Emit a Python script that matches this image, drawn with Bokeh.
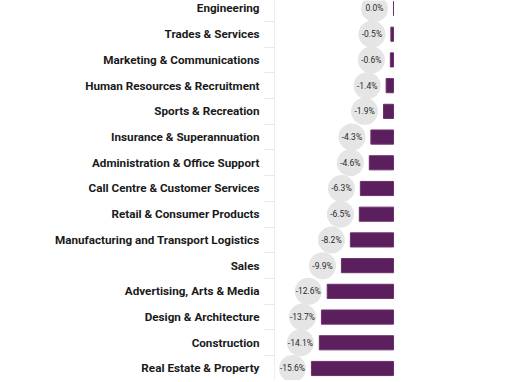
from bokeh.plotting import figure
from bokeh.models import LinearAxis, FixedTicker, Range1d, ColumnDataSource
from bokeh.transform import dodge
from bokeh.core.properties import value
from bokeh.embed import file_html
from bokeh.resources import INLINE

categories = [
    "Engineering", "Trades & Services", "Marketing & Communications",
    "Human Resources & Recruitment", "Sports & Recreation",
    "Insurance & Superannuation", "Administration & Office Support",
    "Call Centre & Customer Services", "Retail & Consumer Products",
    "Manufacturing and Transport Logistics", "Sales",
    "Advertising, Arts & Media", "Design & Architecture", "Construction",
    "Real Estate & Property",
]
values = [0.0, -0.5, -0.6, -1.4, -1.9, -4.3, -4.6, -6.3, -6.5, -8.2,
          -9.9, -12.6, -13.7, -14.1, -15.6]

idx = list(range(len(categories)))
labels = [f"{v:.1f}%" for v in values]
src = ColumnDataSource(dict(y=idx, val=values, zero=[0.0] * len(values), lab=labels))

n = len(categories)
p = figure(width=502, height=380, output_backend="svg", toolbar_location=None,
           x_axis_location=None, y_axis_location=None,
           x_range=Range1d(-22.62, 20.72),
           y_range=Range1d(n - 1 + 0.467, -0.311),
           min_border_left=274, min_border_right=0, min_border_top=0, min_border_bottom=0)
p.outline_line_color = None
p.xgrid.visible = False
p.ygrid.visible = False
p.background_fill_color = "white"

ax = LinearAxis(ticker=FixedTicker(ticks=idx, minor_ticks=[i + 0.5 for i in range(-1, n)]))
ax.major_label_overrides = {i: c for i, c in enumerate(categories)}
ax.major_tick_out = 0
ax.major_tick_in = 0
ax.minor_tick_out = 10
ax.minor_tick_in = 0
ax.minor_tick_line_color = "#e8e8e8"
ax.axis_line_color = "#eeeeee"
ax.major_label_standoff = 5
ax.major_label_text_font = "Roboto"
ax.major_label_text_font_style = "bold"
ax.major_label_text_font_size = "11.7px"
ax.major_label_text_color = "#1a1a1a"
p.add_layout(ax, "left")

p.hbar(y="y", left="val", right="zero", height=0.55, source=src,
       fill_color="#5b1f5e", line_color="#6b2f6e", line_width=1)
p.scatter(x=dodge("val", -3.6, range=p.x_range), y="y", size=27, source=src,
          fill_color="#e5e5e6", line_color=None)
p.text(x=dodge("val", -3.6, range=p.x_range), y="y", text="lab", source=src,
       text_align="center", text_baseline="middle", text_font_size="8.5px",
       text_font=value("Roboto"), text_color="#2a2a2a")

open("out.html", "w").write(file_html(p, INLINE))
